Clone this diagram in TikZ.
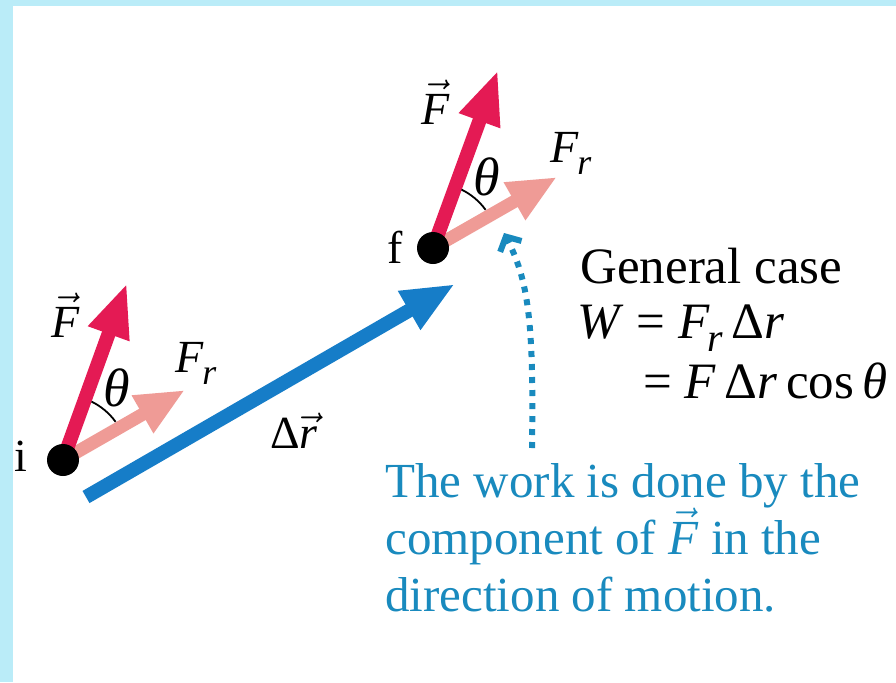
\documentclass[tikz,border=0pt]{standalone}
\usepackage{fontspec}
\setmainfont{Liberation Serif}
\usepackage{xcolor}
\usepackage{tikz}
\usetikzlibrary{arrows.meta,backgrounds}
\definecolor{pagebg}{RGB}{186,236,248}
\definecolor{forcered}{RGB}{228,26,84}
\definecolor{comppink}{RGB}{239,155,150}
\definecolor{dispblue}{RGB}{22,125,200}
\definecolor{noteblue}{RGB}{25,138,190}
% italic letters and vector arrows in the text font
\newcommand{\vi}[1]{\textit{#1}}
\newcommand{\vv}[1]{$\vec{\mbox{\textit{#1}}}$}
\newcommand{\Fsub}{\vi{F}\kern-0.04em\raisebox{-0.26em}{\scalebox{0.78}{\vi{r}}}}
\newcommand{\thet}{{\fontsize{27}{27}\selectfont\vi{θ}}}
\tikzset{
  pt/.style    = {circle, fill=black, inner sep=0pt, minimum size=16pt},
  lbl/.style   = {inner sep=0pt, font=\fontsize{23}{26}\selectfont},
  eqn/.style   = {inner sep=0pt, font=\fontsize{25.5}{28}\selectfont},
  note/.style  = {inner sep=0pt, align=left, text=noteblue,
                  font=\fontsize{24.5}{28.5}\selectfont},
  fvec/.style  = {-{Triangle[length=27pt,width=20pt]}, line width=7pt, forcered},
  frvec/.style = {-{Triangle[length=24.5pt,width=20pt]}, line width=6.5pt, comppink},
  drvec/.style = {-{Triangle[length=26.5pt,width=20.5pt]}, line width=7pt, dispblue},
  motion/.style= {-{Straight Barb[length=5.5pt,width=12pt]}, line width=3pt,
                  dash pattern=on 3pt off 3.5pt, noteblue},
  ang/.style   = {line width=0.9pt, black},
}

\begin{document}
\begin{tikzpicture}[x=0.5pt,y=0.5pt]
  \useasboundingbox (0,0) rectangle (896,-682);
  % initial and final points
  \node[pt] (i) at (63,-460) {};
  \node[pt] (f) at (433,-248) {};
  \node[lbl] (ilbl) at (21,-456) {i};
  \node[lbl] (flbl) at (395,-247) {f};
  \coordinate (Fi) at (127,-283);
  \coordinate (Fri) at (185,-390);
  \coordinate (Ff) at (498,-70);
  \coordinate (Frf) at (557,-177);
  \coordinate (r0) at (86,-497);
  \coordinate (r1) at (455,-284);
  \coordinate (mstart) at (532,-448);
  \coordinate (mend) at (504,-233);

  \node[lbl] (Filbl) at (66,-315) {\vv{F}};
  \node[lbl] (thi) at (117,-388) {\thet};
  \node[lbl] (Frilbl) at (196,-363) {\Fsub};
  \node[lbl] (Fflbl) at (436,-102) {\vv{F}};
  \node[lbl] (thf) at (487,-177) {\thet};
  \node[lbl] (Frflbl) at (571,-153) {\Fsub};
  \node[lbl] (drlbl) at (294,-431) {Δ\vv{r}};

  \draw[ang] (i.center) ++(36:65) arc[start angle=36, end angle=64, radius=65];
  \draw[ang] (f.center) ++(36:65) arc[start angle=36, end angle=64, radius=65];

  \node[eqn, anchor=base west] (gen) at (580,-283) {General case};
  \node[eqn, anchor=base west] (w1) at (577,-338) {\vi{W} = \Fsub\,Δ\vi{r}};
  \node[eqn, anchor=base west] (w2) at (643,-398) {= \vi{F}\,Δ\vi{r}\,cos\,\vi{θ}};

  \node[note, anchor=north west] (work) at (385,-463)
    {The work is done by the\\ component of \vv{F} in the\\ direction of motion.};

  \begin{scope}[on background layer]
    \fill[pagebg] (0,0) rectangle (896,-682);
    \fill[white] (13,-6) rectangle (896,-682);
    \draw[frvec] (i.center) -- (Fri);
    \draw[fvec] (i.center) -- (Fi);
    \draw[frvec] (f.center) -- (Frf);
    \draw[fvec] (f.center) -- (Ff);
    \draw[drvec] (r0) -- (r1);
    \draw[motion] (mstart) .. controls (534,-320) and (528,-280) .. (mend);
  \end{scope}
\end{tikzpicture}
\end{document}
